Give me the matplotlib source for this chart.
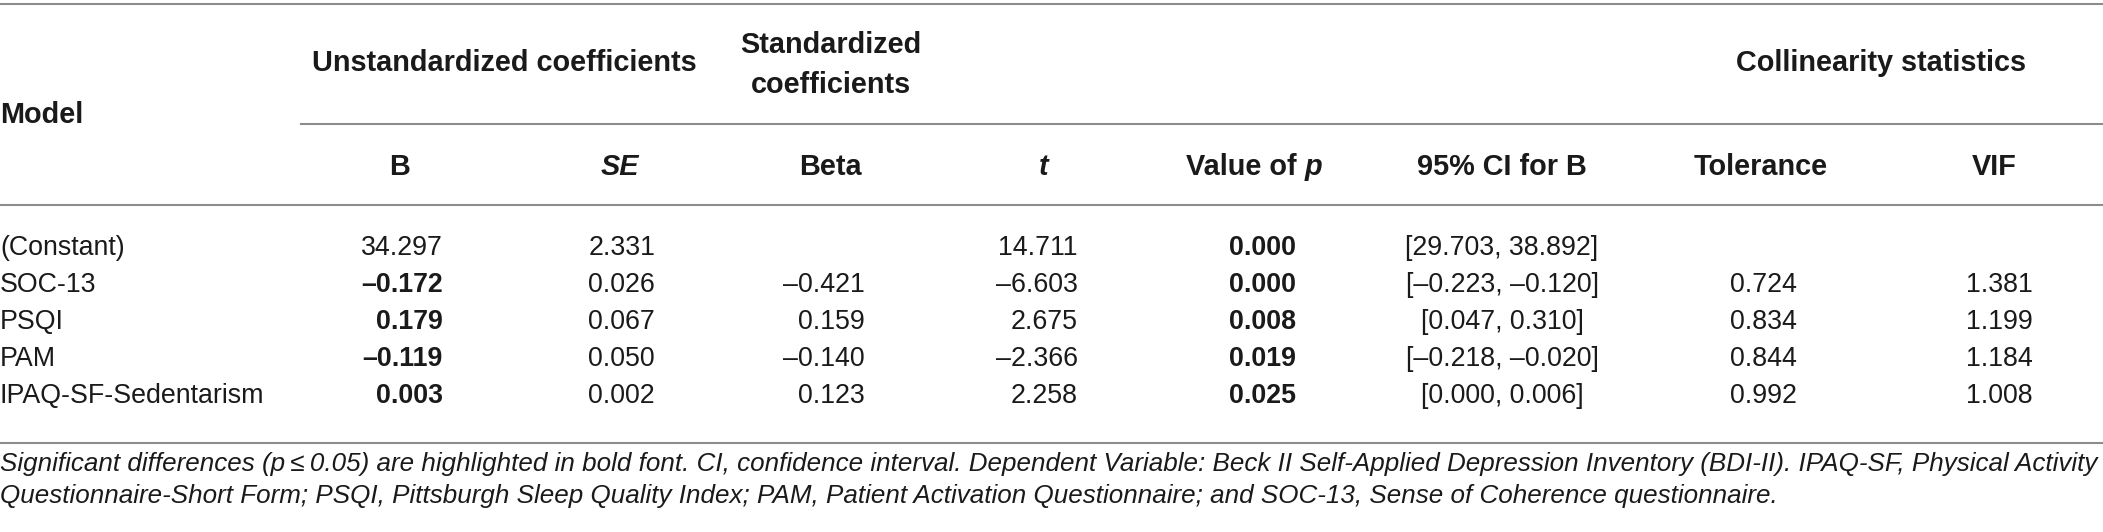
import matplotlib
matplotlib.use("Agg")
import matplotlib.pyplot as plt

plt.rcParams['font.family'] = ['Liberation Sans', 'DejaVu Sans']

# table data
labels = ["(Constant)", "SOC-13", "PSQI", "PAM", "IPAQ-SF-Sedentarism"]
b_vals = [34.297, -0.172, 0.179, -0.119, 0.003]
b_bold = [False, True, True, True, True]
se_vals = [2.331, 0.026, 0.067, 0.050, 0.002]
beta_vals = [None, -0.421, 0.159, -0.140, 0.123]
t_vals = [14.711, -6.603, 2.675, -2.366, 2.258]
p_vals = [0.000, 0.000, 0.008, 0.019, 0.025]
ci_low = [29.703, -0.223, 0.047, -0.218, 0.000]
ci_high = [38.892, -0.120, 0.310, -0.020, 0.006]
tol_vals = [None, 0.724, 0.834, 0.844, 0.992]
vif_vals = [None, 1.381, 1.199, 1.184, 1.008]

footnote = [
    "Significant differences (p\u2009\u2264\u20090.05) are highlighted in bold font. CI, confidence interval. "
    "Dependent Variable: Beck II Self-Applied Depression Inventory (BDI-II). IPAQ-SF, Physical Activity",
    "Questionnaire-Short Form; PSQI, Pittsburgh Sleep Quality Index; PAM, Patient Activation Questionnaire; "
    "and SOC-13, Sense of Coherence questionnaire.",
]


def fmt(v):
    if v is None:
        return ""
    return f"{v:.3f}".replace("-", "\u2013")


W, H = 2103, 532
fig = plt.figure(figsize=(W / 100, H / 100), dpi=100)
ax = fig.add_axes([0, 0, 1, 1])
ax.set_xlim(0, W)
ax.set_ylim(H, 0)
ax.axis('off')

hfs = 20.8   # header size
bfs = 19.3   # body size
col = '#1a1a1a'
line_col = '#8c8c8c'
lw = 1.5

# horizontal rules
ax.plot([0, W], [4, 4], color=line_col, lw=lw)
ax.plot([301, W], [124, 124], color=line_col, lw=lw)
ax.plot([0, W], [205, 205], color=line_col, lw=lw)
ax.plot([0, W], [443, 443], color=line_col, lw=lw)

# group headers
hdr = dict(fontsize=hfs, fontweight='bold', color=col, va='center')
ax.text(0, 115, "Model", ha='left', **hdr)
ax.text(504, 63, "Unstandardized coefficients", ha='center', **hdr)
ax.text(831, 45, "Standardized", ha='center', **hdr)
ax.text(831, 85, "coefficients", ha='center', **hdr)
ax.text(1881, 63, "Collinearity statistics", ha='center', **hdr)

# column headers
hy = 167
ax.text(400, hy, "B", ha='center', **hdr)
ax.text(620, hy, "SE", ha='center', style='italic', **hdr)
ax.text(830, hy, "Beta", ha='center', **hdr)
ax.text(1044, hy, "t", ha='center', style='italic', **hdr)
ax.text(1502, hy, "95% CI for B", ha='center', **hdr)
ax.text(1761, hy, "Tolerance", ha='center', **hdr)
ax.text(1994, hy, "VIF", ha='center', **hdr)

# "Value of p" with italic p
renderer = fig.canvas.get_renderer()
t1 = ax.text(0, hy, "Value of ", ha='left', **hdr)
t2 = ax.text(0, hy, "p", ha='left', style='italic', **hdr)
w1 = t1.get_window_extent(renderer).width
w2 = t2.get_window_extent(renderer).width
x0 = 1254 - (w1 + w2) / 2
t1.set_x(x0)
t2.set_x(x0 + w1)

# body rows
row_y = [248, 285, 322, 359, 396]
body = dict(fontsize=bfs, color=col, va='center')
for i, y in enumerate(row_y):
    ax.text(0, y, labels[i], ha='left', **body)
    ax.text(443, y, fmt(b_vals[i]), ha='right',
            fontweight='bold' if b_bold[i] else 'normal', **body)
    ax.text(655, y, fmt(se_vals[i]), ha='right', **body)
    ax.text(865, y, fmt(beta_vals[i]), ha='right', **body)
    ax.text(1078, y, fmt(t_vals[i]), ha='right', **body)
    ax.text(1262, y, fmt(p_vals[i]), ha='center', fontweight='bold', **body)
    ax.text(1502, y, "[" + fmt(ci_low[i]) + ", " + fmt(ci_high[i]) + "]", ha='center', **body)
    ax.text(1763, y, fmt(tol_vals[i]), ha='center', **body)
    ax.text(1999, y, fmt(vif_vals[i]), ha='center', **body)

# footnote
ffs = 18.7
ax.text(0, 464, footnote[0], ha='left', va='center', fontsize=ffs, style='italic', color=col)
ax.text(0, 496, footnote[1], ha='left', va='center', fontsize=ffs, style='italic', color=col)

fig.savefig("out.png", dpi=100)
